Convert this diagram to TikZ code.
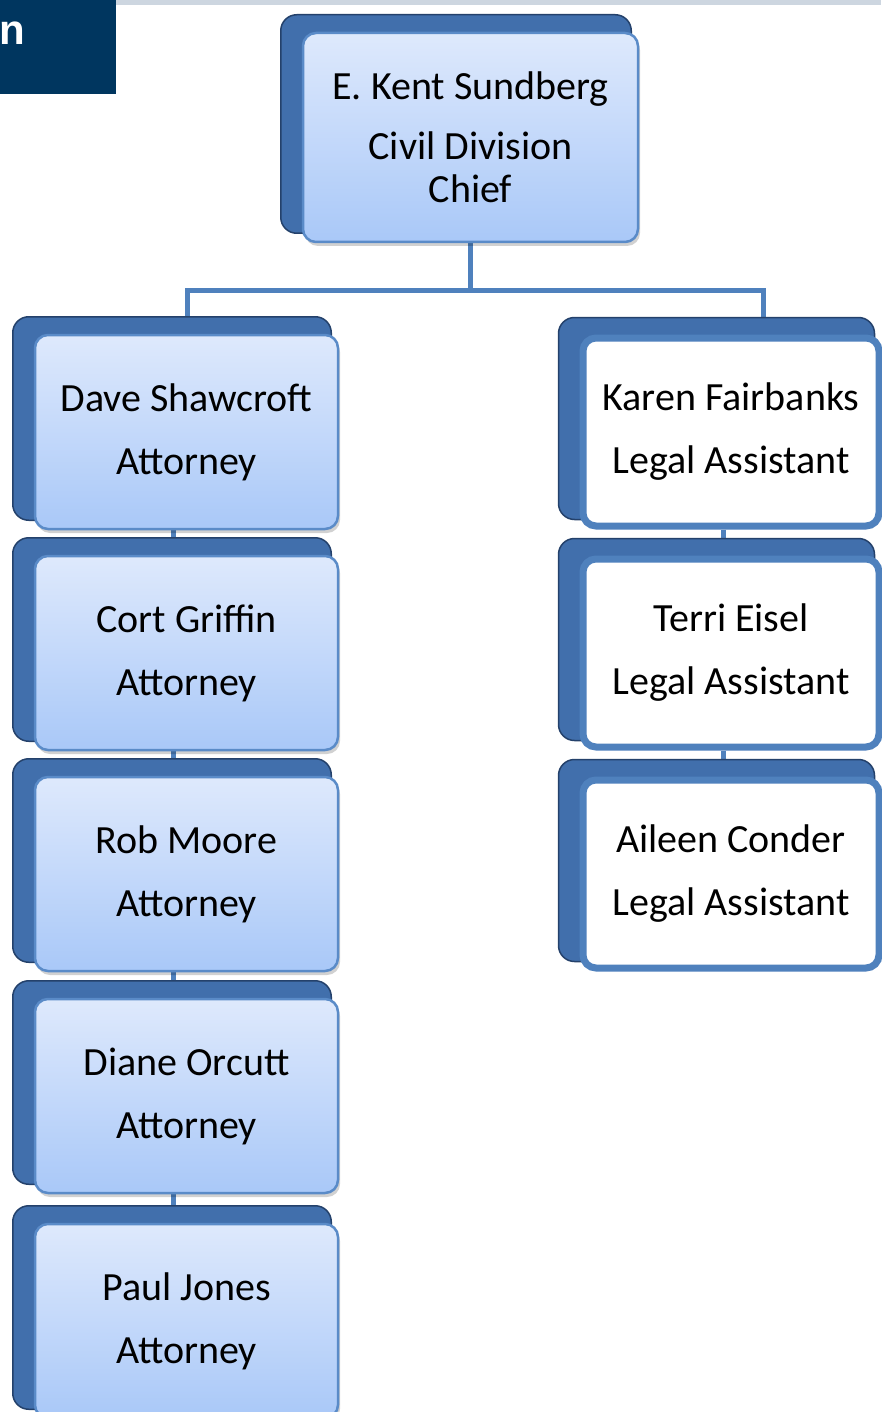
\documentclass[tikz,border=0pt]{standalone}
\usepackage{fontspec}
\setmainfont{Carlito}
\newfontfamily\hdrfont{Liberation Sans}
\usetikzlibrary{shadows,calc}
\pgfdeclarelayer{bg}
\pgfdeclarelayer{mid}
\pgfsetlayers{bg,mid,main}
\definecolor{navy}{HTML}{00365F}
\definecolor{band}{HTML}{CDD6E0}
\definecolor{lineblue}{HTML}{4F81BD}
\definecolor{faceTop}{HTML}{DEE9FC}
\definecolor{faceBot}{HTML}{A9C8F8}
\definecolor{faceEdge}{HTML}{5A8BC8}
\definecolor{backFill}{HTML}{416FAC}
\definecolor{backEdge}{HTML}{24416B}
\begin{document}
\begin{tikzpicture}[x=1pt,y=-1pt,
  facebase/.style={rounded corners=13pt, align=center, inner sep=0pt, text=black},
  bluebox/.style={facebase, minimum width=303pt, minimum height=194pt,
    top color=faceTop, bottom color=faceBot, draw=faceEdge, line width=2.5pt,
    font=\fontsize{40}{63}\selectfont,
    drop shadow={shadow xshift=2pt, shadow yshift=-4pt, opacity=0.18, fill=black}},
  whitebox/.style={facebase, minimum width=296pt, minimum height=188pt,
    fill=white, draw=lineblue, line width=7pt, font=\fontsize{40}{63}\selectfont},
  backshape/.style={rounded corners=16pt, fill=backFill, draw=backEdge, line width=1.5pt},
  conn/.style={draw=lineblue, line width=5pt}]
\useasboundingbox (0,0) rectangle (881,1412);

% front faces
\node[bluebox, minimum width=335pt, minimum height=209pt, font=\fontsize{40}{43}\selectfont]
  (chief) at (470.5,137.5) {E. Kent Sundberg\\[17pt]Civil Division\\Chief};

\node[bluebox] (dave)  at (186.5,432)  {Dave Shawcroft\\Attorney};
\node[bluebox] (cort)  at (186.5,653)  {Cort Griffin\\Attorney};
\node[bluebox] (rob)   at (186.5,874)  {Rob Moore\\Attorney};
\node[bluebox] (diane) at (186.5,1096) {Diane Orcutt\\Attorney};
\node[bluebox] (paul)  at (186.5,1321) {Paul Jones\\Attorney};

\node[whitebox] (karen)  at (731,432) {Karen Fairbanks\\Legal Assistant};
\node[whitebox] (terri)  at (731,653) {Terri Eisel\\Legal Assistant};
\node[whitebox] (aileen) at (731,874) {Aileen Conder\\Legal Assistant};

% header fragment
\node[anchor=base west, inner sep=0pt, text=white,
  font=\hdrfont\bfseries\fontsize{42}{42}\selectfont] (hdr) at (-1,45) {n};

% back (3D) shapes
\begin{pgfonlayer}{mid}
\foreach \n in {chief,dave,cort,rob,diane,paul,karen,terri,aileen}
  \draw[backshape] ($(\n.north west)+(-21,-17)$) rectangle ($(\n.south east)+(-8,-10)$);
\end{pgfonlayer}

% background, header and connectors
\begin{pgfonlayer}{bg}
\fill[white] (0,0) rectangle (881,1412);
\fill[band] (116,0) rectangle (881,5);
\fill[navy] (0,0) rectangle (116,94);
\coordinate (jn) at (470.5,291);
\draw[conn] (chief.south) -- (jn);
\draw[conn] (jn) -| ([xshift=1pt]dave.north);
\draw[conn] (jn) -| ([xshift=32pt]karen.north);
\draw[conn] ([xshift=-13pt]dave.south)  -- ([xshift=-13pt]cort.north);
\draw[conn] ([xshift=-13pt]cort.south)  -- ([xshift=-13pt]rob.north);
\draw[conn] ([xshift=-13pt]rob.south)   -- ([xshift=-13pt]diane.north);
\draw[conn] ([xshift=-13pt]diane.south) -- ([xshift=-13pt]paul.north);
\draw[conn] ([xshift=-8pt]karen.south)  -- ([xshift=-8pt]terri.north);
\draw[conn] ([xshift=-8pt]terri.south)  -- ([xshift=-8pt]aileen.north);
\end{pgfonlayer}
\end{tikzpicture}
\end{document}
